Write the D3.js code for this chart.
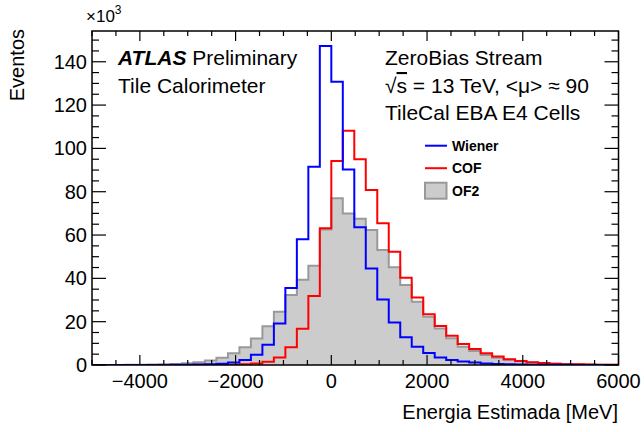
<!DOCTYPE html>
<html>
<head>
<meta charset="utf-8">
<script src="https://cdn.jsdelivr.net/npm/d3@7"></script>
<style>
  body { margin: 0; background: #fff; }
  svg text { font-family: "Liberation Sans", Arial, Helvetica, sans-serif; }
</style>
</head>
<body>
<div class="chart"></div>
<script>
// histogram binning: 240 MeV bins, first bin starts at -5040 (clipped by axis at -5000)
var binStart = -5040,
  binWidth = 240;

// events per bin, in units of 10^3
var of2 = [0.02, 0.03, 0.05, 0.08, 0.12, 0.2, 0.3, 0.5, 0.8, 1.3,
  2.1, 3.4, 5.4, 8.2, 12.2, 17.9, 24.6, 32.3, 39.4, 45.8,
  62.5, 77.0, 70.0, 67.5, 62.3, 53.1, 45.1, 36.9, 29.2, 22.3,
  16.9, 12.3, 8.4, 6.5, 4.6, 3.4, 2.4, 1.7, 1.2, 0.8,
  0.6, 0.4, 0.3, 0.2, 0.15, 0.1];

var cof = [0.01, 0.01, 0.01, 0.01, 0.01, 0.02, 0.02, 0.03, 0.04, 0.06,
  0.08, 0.1, 0.15, 0.3, 0.7, 1.5, 3.5, 8.2, 16.7, 31.9,
  63.1, 94.2, 108.2, 95.0, 80.8, 65.5, 52.3, 40.3, 31.2, 23.4,
  18.0, 13.5, 9.7, 7.4, 5.4, 3.9, 2.7, 1.9, 1.3, 0.9,
  0.6, 0.4, 0.3, 0.2, 0.15, 0.1];

var wiener = [0.01, 0.01, 0.02, 0.02, 0.03, 0.04, 0.05, 0.08, 0.12, 0.2,
  0.3, 0.6, 1.1, 2.3, 4.7, 9.4, 19.2, 35.5, 58.0, 91.5,
  147.3, 130.8, 90.3, 63.6, 44.5, 30.2, 19.6, 12.8, 8.4, 5.5,
  3.5, 2.3, 1.6, 1.1, 0.7, 0.45, 0.3, 0.2, 0.15, 0.1,
  0.08, 0.06, 0.05, 0.04, 0.03, 0.02];

var xTicks = [-4000, -2000, 0, 2000, 4000, 6000];
var yTicks = [0, 20, 40, 60, 80, 100, 120, 140];

var width = 644,
  height = 432,
  frameL = 92,
  frameR = 618.5,
  frameT = 31,
  frameB = 365;

var svg = d3.select(".chart").append("svg")
  .attr("width", width)
  .attr("height", height);

var x = d3.scaleLinear().domain([-5000, 6000]).range([frameL, frameR]);
var y = d3.scaleLinear().domain([0, 154.2]).range([frameB, frameT]);

svg.append("clipPath")
  .attr("id", "frame-clip")
  .append("rect")
  .attr("x", frameL)
  .attr("y", frameT)
  .attr("width", frameR - frameL)
  .attr("height", frameB - frameT);

function histPoints(values) {
  var pts = [[binStart, 0]];
  for (var i = 0; i < values.length; i++) {
    pts.push([binStart + i * binWidth, values[i]]);
  }
  var end = binStart + values.length * binWidth;
  pts.push([end, values[values.length - 1]]);
  pts.push([end, 0]);
  return pts;
}

var stepLine = d3.line()
  .x(function(d) { return x(d[0]); })
  .y(function(d) { return y(d[1]); })
  .curve(d3.curveStepAfter);

var stepArea = d3.area()
  .x(function(d) { return x(d[0]); })
  .y0(y(0))
  .y1(function(d) { return y(d[1]); })
  .curve(d3.curveStepAfter);

var plot = svg.append("g").attr("clip-path", "url(#frame-clip)");

plot.append("path")
  .datum(histPoints(of2))
  .attr("d", stepArea)
  .attr("fill", "#cccccc");

plot.append("path")
  .datum(histPoints(of2))
  .attr("d", stepLine)
  .attr("fill", "none")
  .attr("stroke", "#999999")
  .attr("stroke-width", 2);

plot.append("path")
  .datum(histPoints(cof))
  .attr("d", stepLine)
  .attr("fill", "none")
  .attr("stroke", "#ff0000")
  .attr("stroke-width", 2);

plot.append("path")
  .datum(histPoints(wiener))
  .attr("d", stepLine)
  .attr("fill", "none")
  .attr("stroke", "#0000ff")
  .attr("stroke-width", 2);

// frame
svg.append("rect")
  .attr("x", frameL)
  .attr("y", frameT)
  .attr("width", frameR - frameL)
  .attr("height", frameB - frameT)
  .attr("fill", "none")
  .attr("stroke", "#000")
  .attr("stroke-width", 1.5);

// ticks on all four sides, pointing inwards
var xMinor = d3.range(-5000, 6001, 500);
var yMinor = d3.range(0, 154, 5);
var ticks = svg.append("g").attr("stroke", "#000").attr("stroke-width", 1.2);

xMinor.forEach(function(v) {
  var len = (v % 2000 === 0) ? 10 : 5;
  ticks.append("line").attr("x1", x(v)).attr("x2", x(v)).attr("y1", frameB).attr("y2", frameB - len);
  ticks.append("line").attr("x1", x(v)).attr("x2", x(v)).attr("y1", frameT).attr("y2", frameT + len);
});
yMinor.forEach(function(v) {
  var len = (v % 20 === 0) ? 14 : 7;
  ticks.append("line").attr("x1", frameL).attr("x2", frameL + len).attr("y1", y(v)).attr("y2", y(v));
  ticks.append("line").attr("x1", frameR).attr("x2", frameR - len).attr("y1", y(v)).attr("y2", y(v));
});

// tick labels
svg.append("g").selectAll("text")
  .data(xTicks)
  .enter().append("text")
  .attr("x", function(d) { return x(d); })
  .attr("y", 388)
  .attr("text-anchor", "middle")
  .attr("font-size", 20)
  .text(function(d) { return d < 0 ? "\u2212" + Math.abs(d) : d; });

svg.append("g").selectAll("text")
  .data(yTicks)
  .enter().append("text")
  .attr("x", 87)
  .attr("y", function(d) { return y(d) + 7; })
  .attr("text-anchor", "end")
  .attr("font-size", 20)
  .text(function(d) { return d; });

// axis titles
svg.append("text")
  .attr("x", 618)
  .attr("y", 419)
  .attr("text-anchor", "end")
  .attr("font-size", 20)
  .text("Energia Estimada [MeV]");

svg.append("text")
  .attr("transform", "translate(24,29) rotate(-90)")
  .attr("text-anchor", "end")
  .attr("font-size", 20)
  .text("Eventos");

var mult = svg.append("text")
  .attr("x", 86)
  .attr("y", 22)
  .attr("font-size", 17);
mult.append("tspan").text("\u00d710");
mult.append("tspan").attr("font-size", 12).attr("dy", -8).text("3");

// labels
var atlas = svg.append("text")
  .attr("x", 118)
  .attr("y", 64.5)
  .attr("font-size", 21);
atlas.append("tspan").attr("font-weight", "bold").attr("font-style", "italic").text("ATLAS");
atlas.append("tspan").text(" Preliminary");

svg.append("text")
  .attr("x", 118)
  .attr("y", 92.5)
  .attr("font-size", 21)
  .text("Tile Calorimeter");

svg.append("text")
  .attr("x", 385)
  .attr("y", 65)
  .attr("font-size", 21)
  .text("ZeroBias Stream");

var energy = svg.append("text")
  .attr("x", 385)
  .attr("y", 93)
  .attr("font-size", 21);
energy.append("tspan").text("\u221a");
energy.append("tspan").style("text-decoration", "overline").text("s");
energy.append("tspan").text(" = 13 TeV, <\u03bc> \u2248 90");

svg.append("text")
  .attr("x", 385)
  .attr("y", 119.5)
  .attr("font-size", 21)
  .text("TileCal EBA E4 Cells");

// legend
var legendNames = ["Wiener", "COF", "OF2"];
var legendColors = ["#0000ff", "#ff0000", "#999999"];
var legend = svg.append("g");
legendNames.forEach(function(name, i) {
  var cy = 145.7 + i * 22.5;
  if (name === "OF2") {
    legend.append("rect")
      .attr("x", 425).attr("y", cy - 8)
      .attr("width", 21.5).attr("height", 16)
      .attr("fill", "#cccccc")
      .attr("stroke", legendColors[i])
      .attr("stroke-width", 2);
  } else {
    legend.append("line")
      .attr("x1", 425).attr("x2", 447)
      .attr("y1", cy).attr("y2", cy)
      .attr("stroke", legendColors[i])
      .attr("stroke-width", 2);
  }
  legend.append("text")
    .attr("x", 452)
    .attr("y", cy + 5)
    .attr("font-size", 14)
    .attr("font-weight", "bold")
    .text(name);
});
</script>
</body>
</html>
